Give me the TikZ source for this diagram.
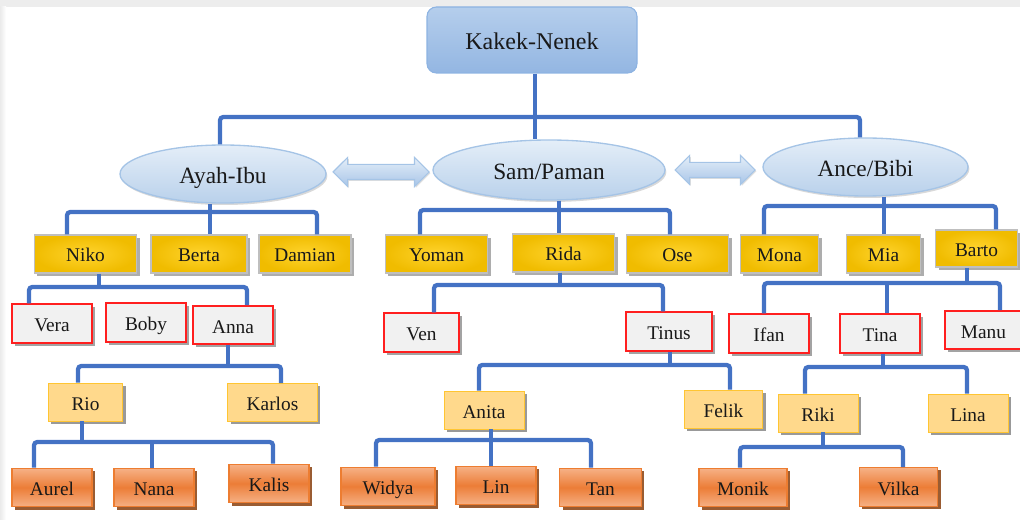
\documentclass[tikz,border=0pt]{standalone}
\usepackage{fontspec}
\setmainfont{Liberation Serif}
\usepackage{xcolor}
\usepackage{tikz}
\usetikzlibrary{positioning,shapes.geometric,shapes.arrows,shadows}
\definecolor{linkblue}{HTML}{4472C4}
\definecolor{skyTop}{HTML}{B5CEEC}
\definecolor{skyBot}{HTML}{93B6E2}
\definecolor{skyLine}{HTML}{8DB3E2}
\definecolor{ovalTop}{HTML}{E4EEF8}
\definecolor{ovalBot}{HTML}{B9D1EB}
\definecolor{ovalLine}{HTML}{A5C4E6}
\definecolor{arrBot}{HTML}{A8C5E8}
\definecolor{goldIn}{HTML}{FFD42E}
\definecolor{goldOut}{HTML}{F0BC00}
\definecolor{redLine}{HTML}{FF1F1F}
\definecolor{paleGray}{HTML}{F1F1F1}
\definecolor{peachFill}{HTML}{FFD98C}
\definecolor{peachLine}{HTML}{FFC532}
\definecolor{orTop}{HTML}{F6B186}
\definecolor{orMid}{HTML}{EC7D37}
\definecolor{orLine}{HTML}{ED7D31}
\definecolor{orShadow}{HTML}{8F4A1C}
\tikzset{
  box/.style={rectangle,inner sep=0pt,minimum width=60pt,minimum height=29pt,
    text height=13pt,text depth=1pt,font=\fontsize{14.5}{17}\selectfont,text=black!90},
  kakekbox/.style={rectangle,rounded corners=7pt,top color=skyTop,bottom color=skyBot,
    draw=skyLine,line width=0.8pt,minimum width=157.5pt,minimum height=49.5pt,
    text height=17pt,text depth=2pt,font=\fontsize{18}{22}\selectfont,text=black!90},
  ovalbox/.style={ellipse,inner sep=0pt,top color=ovalTop,bottom color=ovalBot,
    draw=ovalLine,line width=1pt,minimum width=154pt,minimum height=43.5pt,
    text height=16pt,text depth=2pt,font=\fontsize{17.5}{21}\selectfont,text=black!90,
    drop shadow={shadow xshift=1pt,shadow yshift=-1.5pt,fill=black!25,opacity=.6}},
  dblarr/.style={double arrow,inner xsep=0pt,inner ysep=5.25pt,double arrow head extend=5.25pt,
    top color=ovalTop,bottom color=arrBot,draw=ovalLine,line width=0.8pt,
    drop shadow={shadow xshift=1pt,shadow yshift=-1pt,fill=black!25,opacity=.5}},
  goldbox/.style={box,draw=black!25,line width=0.8pt,inner color=goldIn,outer color=goldOut,
    minimum height=28.5pt,drop shadow={shadow xshift=2pt,shadow yshift=-2pt,fill=black!40,opacity=.8}},
  redbox/.style={box,fill=paleGray,draw=redLine,line width=1.2pt,
    drop shadow={shadow xshift=2pt,shadow yshift=-2pt,fill=black!45,opacity=.8}},
  peachbox/.style={box,fill=peachFill,draw=peachLine,line width=0.7pt,minimum height=28.5pt,
    drop shadow={shadow xshift=2pt,shadow yshift=-2pt,fill=black!50,opacity=.8}},
  orangebox/.style={box,top color=orTop,bottom color=orTop,middle color=orMid,
    draw=orLine,line width=0.8pt,
    drop shadow={shadow xshift=2pt,shadow yshift=-2pt,fill=orShadow,opacity=.9}},
  link/.style={draw=linkblue,line width=3.2pt,rounded corners=2.5pt},
}

\begin{document}
\begin{tikzpicture}[x=0.75pt,y=-0.75pt]
\useasboundingbox (0,0) rectangle (1020,520);
\fill[black!7] (0,0) rectangle (1020,7);
\shade[left color=black!8,right color=white] (0,7) rectangle (6,520);

\node[kakekbox] (kakek) at (532,40) {Kakek-Nenek};
\node[ovalbox, minimum width=154.5pt] (ayah) at (223,174) {Ayah-Ibu};
\node[ovalbox, minimum width=174pt, minimum height=45pt] (sam) at (549,170) {Sam/Paman};
\node[ovalbox, minimum width=153.75pt] (ance) at (865.5,167) {Ance/Bibi};
\node[dblarr, minimum height=72pt] (arrL) at (381,172) {};
\node[dblarr, minimum height=60pt] (arrR) at (715,170) {};

\node[goldbox, minimum width=77pt] (niko) at (85.5,254) {Niko};
\node[goldbox, minimum width=72pt] (berta) at (199,254) {Berta};
\node[goldbox, minimum width=69pt] (damian) at (305,254) {Damian};
\node[goldbox, minimum width=77pt] (yoman) at (436.5,254) {Yoman};
\node[goldbox, minimum width=77pt] (rida) at (563.5,253) {Rida};
\node[goldbox, minimum width=77pt] (ose) at (677.5,254) {Ose};
\node[goldbox, minimum width=59pt] (mona) at (779.5,254) {Mona};
\node[goldbox, minimum width=56pt] (mia) at (883.5,254) {Mia};
\node[goldbox, minimum width=61pt, minimum height=27.75pt] (barto) at (976.5,248.5) {Barto};

\node[redbox] (vera) at (52,323.5) {Vera};
\node[redbox] (boby) at (146,322.5) {Boby};
\node[redbox, minimum height=28.5pt] (anna) at (233,325) {Anna};
\node[redbox, minimum width=56pt] (ven) at (421.5,332.5) {Ven};
\node[redbox, minimum width=64.5pt] (tinus) at (669,331.5) {Tinus};
\node[redbox] (ifan) at (769,333.5) {Ifan};
\node[redbox] (tina) at (880,333.5) {Tina};
\node[redbox, minimum width=58pt, minimum height=28.5pt] (manu) at (983.5,330) {Manu};

\node[peachbox, minimum width=56pt] (rio) at (85.5,402) {Rio};
\node[peachbox, minimum width=67pt] (karlos) at (272.5,402.5) {Karlos};
\node[peachbox] (anita) at (484,410) {Anita};
\node[peachbox, minimum width=59pt] (felik) at (723.5,409) {Felik};
\node[peachbox] (riki) at (818,413) {Riki};
\node[peachbox] (lina) at (968,413) {Lina};

\node[orangebox] (aurel) at (52,487.5) {Aurel};
\node[orangebox] (nana) at (154,487.5) {Nana};
\node[orangebox] (kalis) at (269,483.5) {Kalis};
\node[orangebox, minimum width=70.5pt] (widya) at (388,486.5) {Widya};
\node[orangebox] (lin) at (496,485.5) {Lin};
\node[orangebox, minimum width=61pt] (tan) at (600.5,487.5) {Tan};
\node[orangebox, minimum width=66pt] (monik) at (743,487.5) {Monik};
\node[orangebox, minimum width=59pt] (vilka) at (898.5,487) {Vilka};

\draw[link] (kakek.south -| 535,0) -- (sam.north -| 535,0);
\draw[link] (ayah.north -| 220,0) -- (220,117) -- (860,117) -- (ance.north -| 860,0);

\draw[link] (ayah.south -| 210,0) -- (berta.north -| 210,0);
\draw[link] (niko.north -| 67,0) -- (67,212) -- (317,212) -- (damian.north -| 317,0);
\draw[link] (sam.south -| 559,0) -- (rida.north -| 559,0);
\draw[link] (yoman.north -| 420,0) -- (420,210) -- (670,210) -- (ose.north -| 670,0);
\draw[link] (ance.south -| 884,0) -- (mia.north -| 884,0);
\draw[link] (mona.north -| 764,0) -- (764,206) -- (996,206) -- (barto.north -| 996,0);

\draw[link] (niko.south -| 99,0) -- (99,287);
\draw[link] (vera.north -| 29,0) -- (29,287) -- (247,287) -- (anna.north -| 247,0);
\draw[link] (rida.south -| 560,0) -- (560,285);
\draw[link] (ven.north -| 434,0) -- (434,285) -- (663,285) -- (tinus.north -| 663,0);
\draw[link] (barto.south -| 967,0) -- (967,283);
\draw[link] (ifan.north -| 764,0) -- (764,283) -- (1000,283) -- (manu.north -| 1000,0);
\draw[link] (tina.north -| 887,0) -- (887,283);

\draw[link] (anna.south -| 228,0) -- (228,366);
\draw[link] (rio.north -| 78,0) -- (78,366) -- (281,366) -- (karlos.north -| 281,0);
\draw[link] (tinus.south -| 670,0) -- (670,365);
\draw[link] (anita.north -| 479,0) -- (479,365) -- (730,365) -- (felik.north -| 730,0);
\draw[link] (tina.south -| 883,0) -- (883,367);
\draw[link] (riki.north -| 805,0) -- (805,367) -- (967,367) -- (lina.north -| 967,0);

\draw[link] (rio.south -| 82,0) -- (82,442);
\draw[link] (aurel.north -| 34,0) -- (34,442) -- (273,442) -- (kalis.north -| 273,0);
\draw[link] (nana.north -| 152,0) -- (152,442);
\draw[link] (anita.south -| 491,0) -- (lin.north -| 491,0);
\draw[link] (widya.north -| 376,0) -- (376,440) -- (591,440) -- (tan.north -| 591,0);
\draw[link] (riki.south -| 823,0) -- (823,447);
\draw[link] (monik.north -| 740,0) -- (740,447) -- (903,447) -- (vilka.north -| 903,0);
\end{tikzpicture}
\end{document}
